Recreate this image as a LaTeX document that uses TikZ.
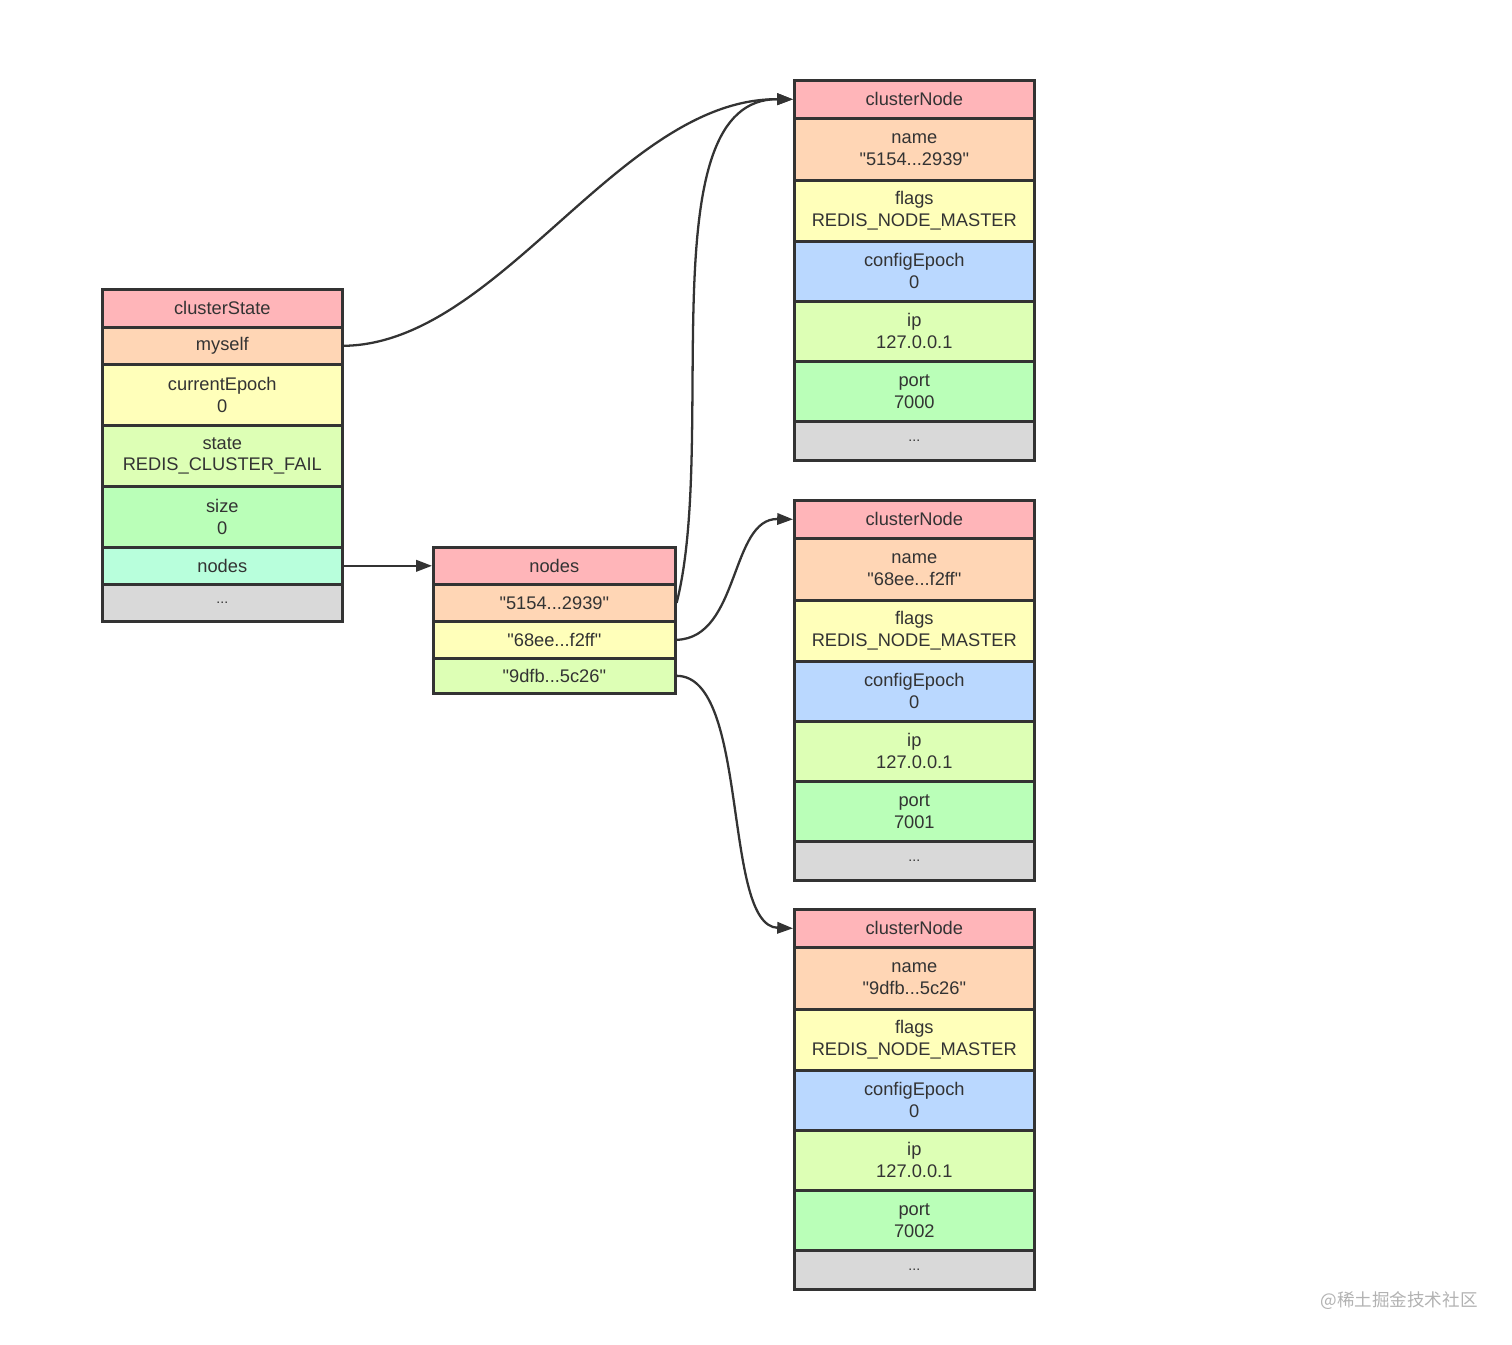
\documentclass[tikz,border=0pt]{standalone}
\usepackage{fontspec}
\setmainfont{Liberation Sans}[Ligatures=TeXOff]
\newfontfamily\cjkfont{Noto Sans CJK SC}
\usetikzlibrary{arrows.meta}
\definecolor{cpink}{HTML}{FFB5B9}
\definecolor{corange}{HTML}{FFD6B5}
\definecolor{cyellow}{HTML}{FFFFBA}
\definecolor{clgreen}{HTML}{DDFFB5}
\definecolor{cgreen}{HTML}{BAFFB8}
\definecolor{cteal}{HTML}{B8FFDC}
\definecolor{cblue}{HTML}{BAD8FF}
\definecolor{cgray}{HTML}{D9D9D9}
\definecolor{cborder}{HTML}{333333}
\definecolor{ctext}{HTML}{333333}
\newcommand\cellnode[7]{\node[cellbox,fill=#2,minimum width=#5*0.02cm,minimum height=#6*0.02cm] (#1) at (#3,#4) {#7};}
\newcommand\celldots{{\footnotesize ...}}
\newcommand\clusternodebox[4]{%
  \cellnode{#1h}{cpink}{793}{#2}{240}{38}{clusterNode}
  \cellnode{#1n}{corange}{793}{#2+38}{240}{62}{name\\#3}
  \cellnode{#1f}{cyellow}{793}{#2+100}{240}{61}{flags\\REDIS\_NODE\_MASTER}
  \cellnode{#1c}{cblue}{793}{#2+161}{240}{60}{configEpoch\\0}
  \cellnode{#1i}{clgreen}{793}{#2+221}{240}{60}{ip\\127.0.0.1}
  \cellnode{#1p}{cgreen}{793}{#2+281}{240}{60}{port\\#4}
  \cellnode{#1e}{cgray}{793}{#2+341}{240}{39}{\celldots}
}
\begin{document}
\begin{tikzpicture}[x=0.02cm,y=-0.02cm,
  cellbox/.style={draw=cborder, line width=1.5pt, anchor=north west, inner sep=0pt,
    align=center, text=ctext, font=\fontsize{10.4}{12.4}\selectfont},
  link/.style={draw=cborder, line width=1.3pt, -{Triangle[length=9pt,width=6.5pt]}}]
\useasboundingbox (0,0) rectangle (1512,1345);
% clusterState
\cellnode{csh}{cpink}{101}{288}{240}{38}{clusterState}
\cellnode{csm}{corange}{101}{326}{240}{37}{myself}
\cellnode{csc}{cyellow}{101}{363}{240}{61}{currentEpoch\\0}
\cellnode{css}{clgreen}{101}{424}{240}{61}{state\\REDIS\_CLUSTER\_FAIL}
\cellnode{csz}{cgreen}{101}{485}{240}{61}{size\\0}
\cellnode{csn}{cteal}{101}{546}{240}{37}{nodes}
\cellnode{cse}{cgray}{101}{583}{240}{37}{\celldots}
% nodes dict
\cellnode{dh}{cpink}{432}{546}{242}{37}{nodes}
\cellnode{d1}{corange}{432}{583}{242}{37}{"5154...2939"}
\cellnode{d2}{cyellow}{432}{620}{242}{37}{"68ee...f2ff"}
\cellnode{d3}{clgreen}{432}{657}{242}{35}{"9dfb...5c26"}
% cluster nodes
\clusternodebox{a}{79}{"5154...2939"}{7000}
\clusternodebox{b}{499}{"68ee...f2ff"}{7001}
\clusternodebox{c}{908}{"9dfb...5c26"}{7002}
% links
\draw[link] (csm.east) .. controls (500,344) and (620,98) .. (ah.west);
\draw[link] (csn.east) -- (dh.west);
\draw[link] (d1.east) .. controls (718,440) and (648,98) .. (ah.west);
\draw[link] (d2.east) .. controls (740,638) and (730,518) .. (bh.west);
\draw[link] (d3.east) .. controls (750,676) and (722,926) .. (ch.west);
% watermark
\node[font=\cjkfont\fontsize{10}{12}\selectfont, text=black!30, anchor=east, inner sep=0pt] (wm) at (1478,1301) {@稀土掘金技术社区};
\end{tikzpicture}
\end{document}
